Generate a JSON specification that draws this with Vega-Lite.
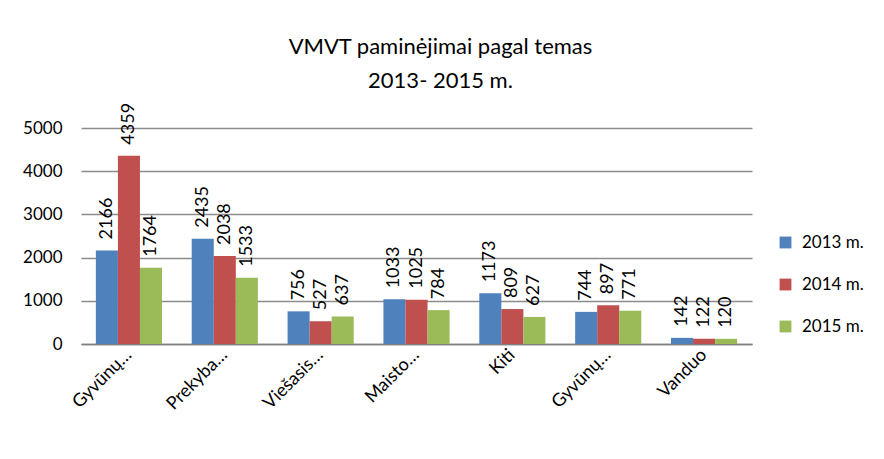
{
  "$schema": "https://vega.github.io/schema/vega-lite/v6.json",
  "width": 671,
  "height": 216,
  "autosize": {"type": "none"},
  "padding": {"left": 81, "top": 128, "right": 132, "bottom": 115},
  "background": "white",
  "config": {"font": "Lato", "view": {"stroke": null}},
  "title": {
    "text": ["VMVT paminėjimai pagal temas", "2013- 2015 m."],
    "fontSize": 22,
    "fontWeight": "normal",
    "lineHeight": 34,
    "offset": 10,
    "anchor": "middle",
    "frame": "group",
    "dx": 24,
    "color": "#000000"
  },
  "data": {
    "values": [
      {"nr": 1, "tema": "Gyvūnų…", "metai": "2013 m.", "kiekis": 2166},
      {"nr": 1, "tema": "Gyvūnų…", "metai": "2014 m.", "kiekis": 4359},
      {"nr": 1, "tema": "Gyvūnų…", "metai": "2015 m.", "kiekis": 1764},
      {"nr": 2, "tema": "Prekyba…", "metai": "2013 m.", "kiekis": 2435},
      {"nr": 2, "tema": "Prekyba…", "metai": "2014 m.", "kiekis": 2038},
      {"nr": 2, "tema": "Prekyba…", "metai": "2015 m.", "kiekis": 1533},
      {"nr": 3, "tema": "Viešasis…", "metai": "2013 m.", "kiekis": 756},
      {"nr": 3, "tema": "Viešasis…", "metai": "2014 m.", "kiekis": 527},
      {"nr": 3, "tema": "Viešasis…", "metai": "2015 m.", "kiekis": 637},
      {"nr": 4, "tema": "Maisto…", "metai": "2013 m.", "kiekis": 1033},
      {"nr": 4, "tema": "Maisto…", "metai": "2014 m.", "kiekis": 1025},
      {"nr": 4, "tema": "Maisto…", "metai": "2015 m.", "kiekis": 784},
      {"nr": 5, "tema": "Kiti", "metai": "2013 m.", "kiekis": 1173},
      {"nr": 5, "tema": "Kiti", "metai": "2014 m.", "kiekis": 809},
      {"nr": 5, "tema": "Kiti", "metai": "2015 m.", "kiekis": 627},
      {"nr": 6, "tema": "Gyvūnų…", "metai": "2013 m.", "kiekis": 744},
      {"nr": 6, "tema": "Gyvūnų…", "metai": "2014 m.", "kiekis": 897},
      {"nr": 6, "tema": "Gyvūnų…", "metai": "2015 m.", "kiekis": 771},
      {"nr": 7, "tema": "Vanduo", "metai": "2013 m.", "kiekis": 142},
      {"nr": 7, "tema": "Vanduo", "metai": "2014 m.", "kiekis": 122},
      {"nr": 7, "tema": "Vanduo", "metai": "2015 m.", "kiekis": 120}
    ]
  },
  "encoding": {
    "x": {
      "field": "nr",
      "type": "ordinal",
      "scale": {"paddingInner": 0.31, "paddingOuter": 0.155},
      "axis": {
        "title": null,
        "labelAngle": -45,
        "labelAlign": "right",
        "labelBaseline": "middle",
        "labelExpr": "['Gyvūnų…','Prekyba…','Viešasis…','Maisto…','Kiti','Gyvūnų…','Vanduo'][datum.value-1]",
        "labelFontSize": 18,
        "labelColor": "#000000",
        "labelPadding": 8,
        "ticks": false,
        "domainColor": "#808080",
        "domainWidth": 1.5
      }
    },
    "xOffset": {"field": "metai", "type": "nominal"},
    "y": {
      "field": "kiekis",
      "type": "quantitative",
      "scale": {"domain": [0, 5000]},
      "axis": {
        "title": null,
        "values": [0, 1000, 2000, 3000, 4000, 5000],
        "format": "d",
        "domain": false,
        "ticks": false,
        "labelFontSize": 17,
        "labelColor": "#000000",
        "labelPadding": 19,
        "gridColor": "#8c8c8c",
        "gridWidth": 1.5
      }
    }
  },
  "layer": [
    {
      "mark": {"type": "bar"},
      "encoding": {
        "color": {
          "field": "metai",
          "type": "nominal",
          "scale": {"domain": ["2013 m.", "2014 m.", "2015 m."], "range": ["#4F81BD", "#C0504D", "#9BBB59"]},
          "legend": {
            "title": null,
            "orient": "none",
            "legendX": 696,
            "legendY": 106,
            "symbolType": "square",
            "symbolSize": 140,
            "symbolStrokeWidth": 0,
            "labelFontSize": 17,
            "labelColor": "#000000",
            "rowPadding": 24,
            "labelOffset": 8
          }
        }
      }
    },
    {
      "mark": {"type": "text", "angle": 270, "align": "left", "baseline": "middle", "dx": 11, "fontSize": 18, "color": "#000000"},
      "encoding": {"text": {"field": "kiekis", "type": "quantitative"}}
    }
  ]
}
